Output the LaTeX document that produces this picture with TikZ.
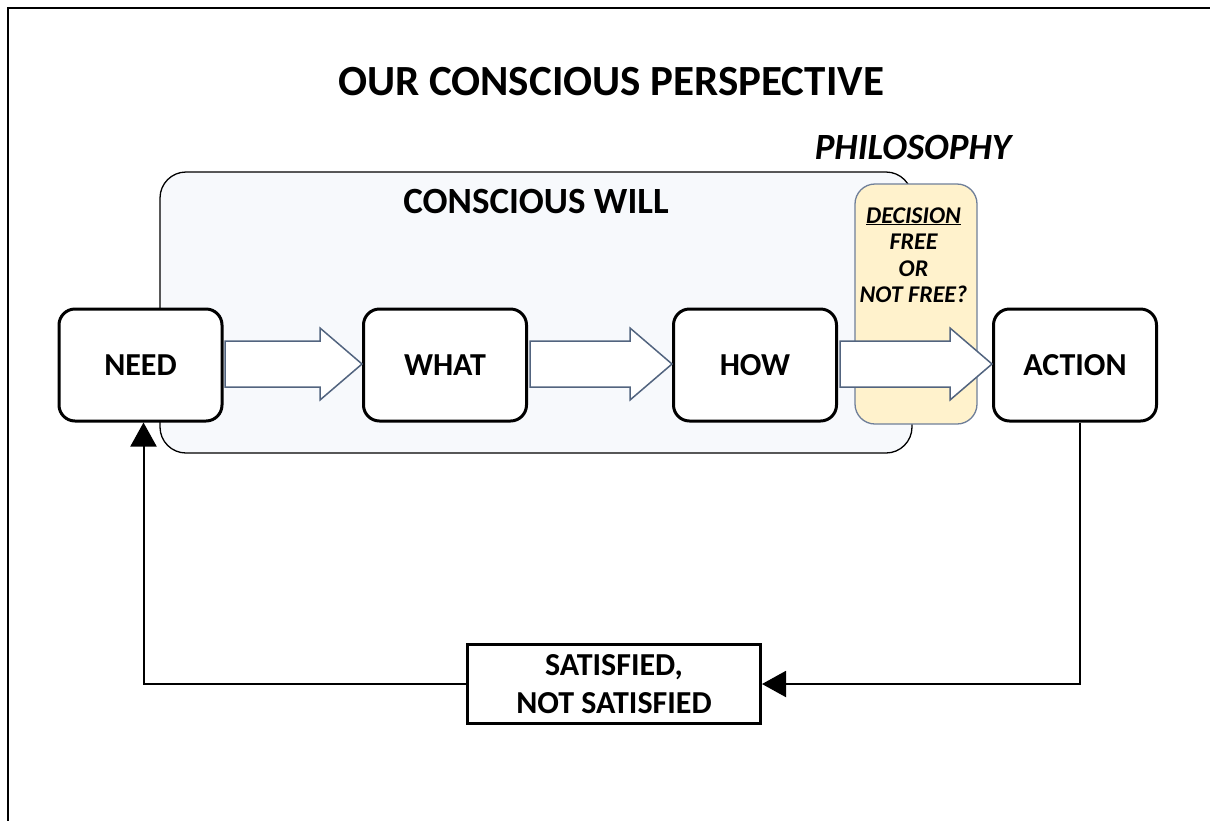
\documentclass[tikz,border=0pt]{standalone}
\usepackage{fontspec}
\setmainfont{Carlito}
\usetikzlibrary{arrows.meta,calc}
\definecolor{willfill}{HTML}{F7F9FC}
\definecolor{decfill}{HTML}{FFF2CC}
\definecolor{arrowline}{HTML}{52647F}
\definecolor{decline}{HTML}{6F7F99}
\tikzset{
  stage/.style={draw=black, line width=3pt, rounded corners=16pt, fill=white,
    minimum width=163pt, minimum height=112pt, inner sep=0pt,
    font=\fontsize{32}{38}\selectfont\bfseries},
  willbox/.style={draw=black, line width=1.3pt, rounded corners=26pt, fill=willfill,
    minimum width=752pt, minimum height=281pt, inner sep=0pt},
  decbox/.style={draw=decline, line width=1.3pt, rounded corners=20pt, fill=decfill,
    minimum width=122pt, minimum height=240pt, inner sep=0pt},
  resultbox/.style={draw=black, line width=3pt, fill=white, minimum width=293pt,
    minimum height=79pt, inner sep=0pt, align=center,
    font=\fontsize{32}{38}\selectfont\bfseries},
  blockarrow/.style={draw=arrowline, line width=1.5pt, fill=white, line join=miter},
  feedback/.style={draw=black, line width=2pt},
  fbtip/.style={-{Triangle[length=24pt,width=26pt]}},
  heading/.style={anchor=base, inner sep=0pt, font=\fontsize{43}{48}\selectfont\bfseries},
  dectext/.style={anchor=base, inner sep=0pt, font=\fontsize{24}{28}\selectfont\bfseries\itshape},
}
\newcommand\blockarrow[2]{%
  \draw[blockarrow] let \p1=(#1), \p2=(#2) in
    (\x1,\y1+23pt) -- (\x2-42pt,\y1+23pt) -- (\x2-42pt,\y1+36pt) -- (\x2,\y1)
    -- (\x2-42pt,\y1-36pt) -- (\x2-42pt,\y1-23pt) -- (\x1,\y1-23pt) -- cycle;}
\begin{document}
\begin{tikzpicture}[x=1pt,y=-1pt]
\useasboundingbox (0,0) rectangle (1210,820);
\begin{scope}
  \clip (0,0) rectangle (1210,820);
  \draw[line width=2.5pt] (8,8) rectangle (1240,850);
\end{scope}

\node[heading] (title) at (611,95) {OUR CONSCIOUS PERSPECTIVE};
\node[heading, font=\fontsize{37}{42}\selectfont\bfseries\itshape] (philo) at (913,159) {PHILOSOPHY};

\node[willbox] (will) at (536,312.5) {};
\node[heading, font=\fontsize{37}{42}\selectfont\bfseries] (willtext) at (536,213) {CONSCIOUS WILL};

\node[decbox] (dec) at (916,304) {};
\node[dectext] (d1) at (913.5,223) {\underline{DECISION}};
\node[dectext] (d2) at (913.5,249.5) {FREE};
\node[dectext] (d3) at (913.5,276) {OR};
\node[dectext] (d4) at (913.5,302.5) {NOT FREE?};

\node[stage] (need) at (140.5,365) {NEED};
\node[stage] (what) at (445,365) {WHAT};
\node[stage] (how) at (755,365) {HOW};
\node[stage] (action) at (1075,365) {ACTION};

\blockarrow{$(need.east)+(1.5,-1)$}{$(what.west)+(0,-1)$}
\blockarrow{$(what.east)+(2,-1)$}{$(how.west)+(0,-1)$}
\blockarrow{$(how.east)+(2,-1)$}{$(action.west)+(0,-1)$}

\node[resultbox] (sat) at (614,684) {SATISFIED,\\NOT SATISFIED};

\draw[feedback, fbtip] ($(action.south)+(5,0)$) |- (sat.east);
\draw[feedback, fbtip] (sat.west) -| ($(need.south)+(3,0)$);
\end{tikzpicture}
\end{document}
